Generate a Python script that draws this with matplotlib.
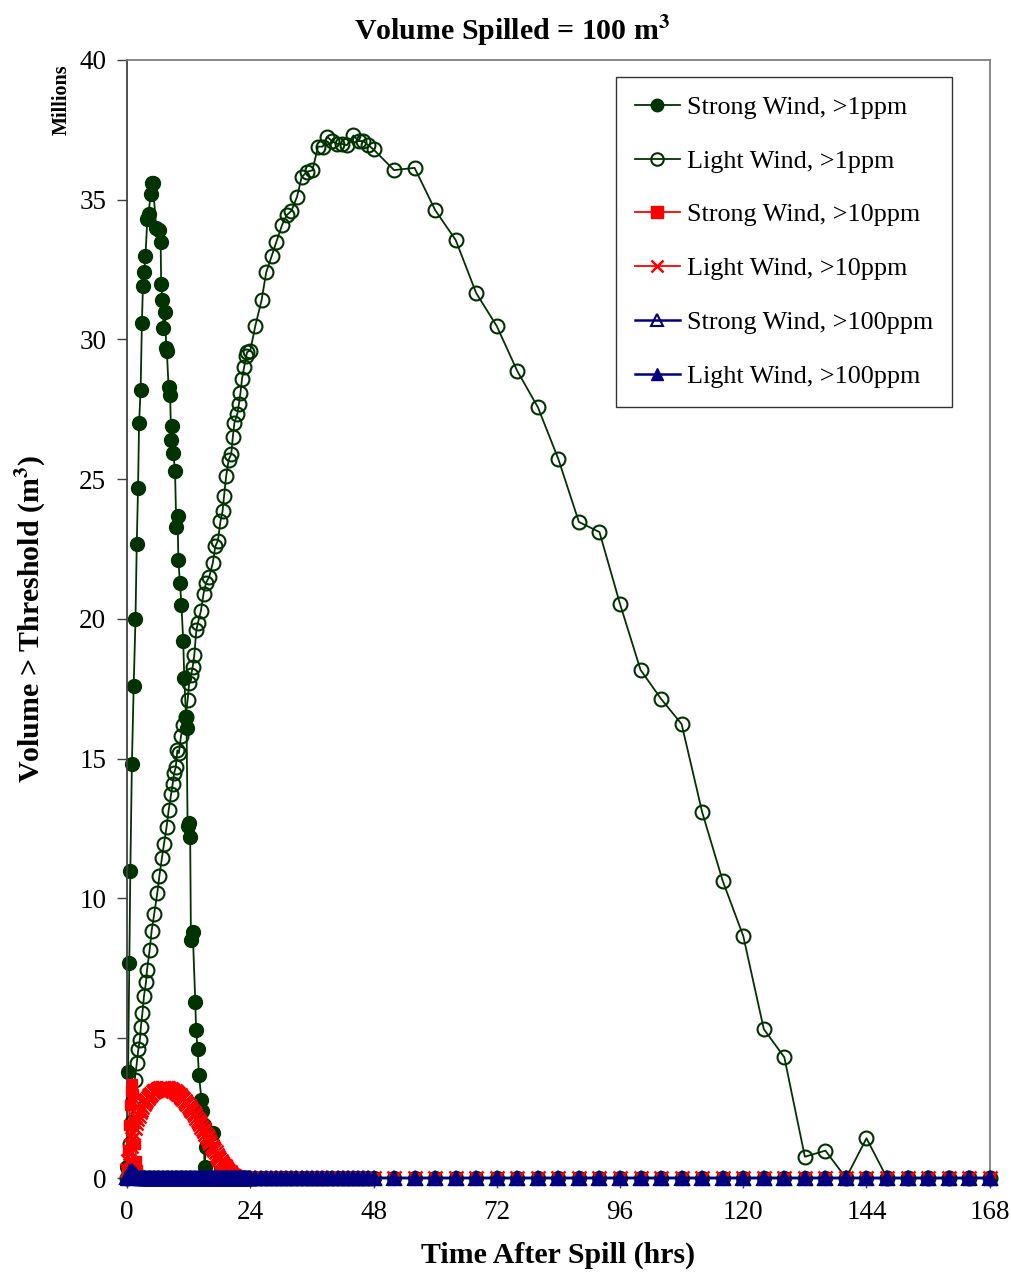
import numpy as np
import matplotlib
matplotlib.use("Agg")
import matplotlib.pyplot as plt

plt.rcParams['font.family'] = ['Liberation Serif', 'DejaVu Serif']
plt.rcParams['mathtext.fontset'] = 'stix'

# ---------------- data (millions of m^3) ----------------
x_ticks = [0, 24, 48, 72, 96, 120, 144, 168]
y_ticks = [0, 5, 10, 15, 20, 25, 30, 35, 40]

# Strong wind, >1ppm
strong1_hours = [0.0, 0.2, 0.45, 0.65, 0.95, 1.3, 1.65, 1.9, 2.15, 2.35, 2.65, 2.9, 3.1,
                 3.35, 3.6, 3.95, 4.2, 4.6, 4.8, 5.0, 5.7, 6.2, 6.55, 6.65, 6.9, 7.1, 7.4,
                 7.65, 7.75, 8.1, 8.4, 8.6, 8.85, 9.0, 9.35, 9.6, 9.85, 10.0, 10.3, 10.6,
                 10.95, 11.15, 11.5, 11.6, 11.8, 12.1, 12.3, 12.45, 12.8, 13.3, 13.45,
                 13.75, 14.0, 14.5, 14.7, 14.9, 15.1, 15.4, 16.7, 17.2]
strong1_vals = [0.4, 3.8, 7.7, 11.0, 14.8, 17.6, 20.0, 22.7, 24.7, 27.0, 28.2, 30.6, 31.9,
                32.4, 33.0, 34.3, 34.5, 35.2, 35.6, 35.6, 34.0, 33.9, 33.5, 32.0, 31.4, 30.4,
                31.0, 29.7, 29.6, 28.3, 28.0, 26.4, 26.9, 25.95, 25.3, 23.3, 23.7, 22.1,
                21.3, 20.5, 19.2, 17.9, 16.5, 16.1, 12.6, 12.7, 12.2, 8.5, 8.8, 6.3, 5.3,
                4.6, 3.7, 2.8, 2.4, 1.9, 0.4, 1.1, 1.6, 0.0]

# Light wind, >1ppm
light1_hours = [0.0, 0.3, 0.6, 0.9, 1.2, 1.5, 1.9, 2.2, 2.5, 2.7, 3.0, 3.3, 3.7, 3.9, 4.4,
                4.8, 5.3, 5.9, 6.3, 6.8, 7.2, 7.7, 8.1, 8.6, 8.9, 9.2, 9.5, 9.8, 10.1,
                10.5, 11.0, 11.4, 11.8, 12.1, 12.5, 12.8, 13.1, 13.5, 13.8, 14.4, 14.9,
                15.4, 16.0, 16.7, 17.2, 17.7, 18.2, 18.6, 18.9, 19.3, 19.8, 20.3, 20.6,
                20.9, 21.5, 21.8, 22.1, 22.4, 22.8, 23.2, 23.4, 24.0, 25.0, 26.2, 27.1,
                28.2, 29.1, 30.2, 31.1, 32.0, 33.1, 34.0, 35.0, 36.1, 37.2, 38.1, 39.0,
                39.9, 40.8, 41.8, 42.8, 44.1, 45.1, 46.0, 47.0, 48.0, 52, 56, 60, 64, 68,
                72, 76, 80, 84, 88, 92, 96, 100, 104, 108, 112, 116, 120, 124, 128, 132,
                136, 140, 144, 148, 152, 156, 160, 164, 168]
light1_vals = [0.0, 0.3, 1.2, 2.0, 2.8, 3.5, 4.1, 4.6, 4.95, 5.4, 5.9, 6.5, 7.0, 7.45,
               8.15, 8.85, 9.45, 10.2, 10.8, 11.45, 11.95, 12.55, 13.15, 13.75, 14.1, 14.5,
               14.7, 15.3, 15.2, 15.8, 16.2, 16.5, 17.1, 17.7, 18.0, 18.3, 18.7, 19.6,
               19.85, 20.3, 20.9, 21.3, 21.5, 22.0, 22.6, 22.8, 23.5, 23.85, 24.4, 25.1,
               25.7, 25.9, 26.5, 27.0, 27.35, 27.7, 28.1, 28.6, 29.0, 29.4, 29.55, 29.6,
               30.5, 31.4, 32.4, 33.0, 33.5, 34.1, 34.45, 34.6, 35.1, 35.8, 36.0, 36.05,
               36.9, 36.9, 37.25, 37.1, 37.0, 37.0, 36.95, 37.3, 37.1, 37.1, 36.95, 36.8,
               36.06, 36.14, 34.63, 33.56, 31.66, 30.48, 28.87, 27.58, 25.72, 23.47, 23.11,
               20.54, 18.18, 17.14, 16.24, 13.09, 10.63, 8.66, 5.33, 4.32, 0.76, 0.98,
               0.0, 1.42, 0.0, 0.0, 0.0, 0.0, 0.0, 0.0]

# Strong wind, >10ppm
strong10_hours = [0.0, 0.2, 0.4, 0.6, 0.8, 1.0, 1.2, 1.4, 1.6, 1.8, 2.0, 2.3, 2.6]
strong10_vals = [0.3, 1.0, 1.9, 2.6, 3.1, 3.35, 3.0, 2.0, 1.2, 0.6, 0.3, 0.1, 0.0]

# Light wind, >10ppm
light10_hours = [0.0, 0.25, 0.5, 0.75, 1.0, 1.25, 1.5, 1.75, 2.0, 2.25, 2.5, 2.75, 3.0,
                 3.25, 3.5, 3.75, 4.0, 4.25, 4.5, 4.75, 5.0, 5.25, 5.5, 5.75, 6.0, 6.25,
                 6.5, 6.75, 7.0, 7.25, 7.5, 7.75, 8.0, 8.25, 8.5, 8.75, 9.0, 9.25, 9.5,
                 9.75, 10.0, 10.25, 10.5, 10.75, 11.0, 11.25, 11.5, 11.75, 12.0, 12.25,
                 12.5, 12.75, 13.0, 13.25, 13.5, 13.75, 14.0, 14.25, 14.5, 14.75, 15.0,
                 15.25, 15.5, 15.75, 16.0, 16.25, 16.5, 16.75, 17.0, 17.25, 17.5, 17.75,
                 18.0, 18.25, 18.5, 18.75, 19.0, 19.25, 19.5, 19.75, 20.0, 20.25, 20.5,
                 20.75, 21.0, 21.25, 21.5]
light10_vals = [0.3, 0.6, 0.9, 1.15, 1.4, 1.6, 1.8, 1.95, 2.1, 2.23, 2.35, 2.45, 2.55,
                2.64, 2.72, 2.8, 2.86, 2.92, 2.97, 3.02, 3.06, 3.1, 3.13, 3.16, 3.18, 3.2,
                3.21, 3.22, 3.23, 3.23, 3.23, 3.22, 3.21, 3.2, 3.18, 3.16, 3.13, 3.1, 3.07,
                3.04, 3.0, 2.96, 2.91, 2.86, 2.81, 2.76, 2.7, 2.64, 2.58, 2.52, 2.45, 2.38,
                2.31, 2.24, 2.16, 2.08, 2.0, 1.92, 1.84, 1.76, 1.67, 1.59, 1.5, 1.42, 1.33,
                1.25, 1.16, 1.08, 1.0, 0.92, 0.84, 0.76, 0.69, 0.62, 0.55, 0.48, 0.42, 0.36,
                0.3, 0.25, 0.2, 0.16, 0.12, 0.08, 0.05, 0.02, 0.0]

# Strong wind, >100ppm
strong100_hours = [0.0, 0.5, 1.0, 1.5, 2.0, 2.5]
strong100_vals = [0.05, 0.2, 0.25, 0.15, 0.05, 0.0]

# Light wind, >100ppm
light100_hours = [0.0, 0.5, 1.0, 1.5, 2.0, 2.5]
light100_vals = [0.0, 0.1, 0.2, 0.15, 0.05, 0.0]

# zero-valued sampling after the plumes die out
hourly_tail = [25, 26, 27, 28, 29, 30, 31, 32, 33, 34, 35, 36, 37, 38, 39, 40, 41, 42,
               43, 44, 45, 46, 47, 48]
four_hourly_tail = [52, 56, 60, 64, 68, 72, 76, 80, 84, 88, 92, 96, 100, 104, 108, 112,
                    116, 120, 124, 128, 132, 136, 140, 144, 148, 152, 156, 160, 164, 168]


def with_zero_tail(hours, vals):
    start = hours[-1]
    dense = list(np.arange(start + 0.25, 24.01, 0.25))
    extra = dense + hourly_tail + four_hourly_tail
    return list(hours) + extra, list(vals) + [0.0] * len(extra)


s1h, s1v = with_zero_tail(strong1_hours, strong1_vals)
s10h, s10v = with_zero_tail(strong10_hours, strong10_vals)
l10h, l10v = with_zero_tail(light10_hours, light10_vals)
s100h, s100v = with_zero_tail(strong100_hours, strong100_vals)
l100h, l100v = with_zero_tail(light100_hours, light100_vals)

green = '#003300'
red = '#FF0000'
navy = '#000080'

fig = plt.figure(figsize=(10.12, 12.76), dpi=100)
ax = fig.add_axes([0.1255, 0.0768, 0.8525, 0.8762])

lw = 1.3
ax.plot(s1h, s1v, color=green, lw=lw, marker='o', ms=10, mfc=green, mec=green,
        label='Strong Wind, >1ppm', zorder=2)
ax.plot(light1_hours, light1_vals, color=green, lw=lw, marker='o', ms=10, mfc='none',
        mec=green, mew=1.5, label='Light Wind, >1ppm', zorder=3)
ax.plot(s10h, s10v, color=red, lw=lw, marker='s', ms=7.5, mfc=red, mec=red,
        label='Strong Wind, >10ppm', zorder=4)
ax.plot(l10h, l10v, color=red, lw=lw, marker='x', ms=9.5, mew=1.8, mec=red,
        label='Light Wind, >10ppm', zorder=5)
ax.plot(s100h, s100v, color=navy, lw=1.8, marker='^', ms=9.5, mfc='none', mec=navy,
        mew=1.5, label='Strong Wind, >100ppm', zorder=6)
ax.plot(l100h, l100v, color=navy, lw=1.8, marker='^', ms=9.5, mfc=navy, mec=navy,
        label='Light Wind, >100ppm', zorder=7)

ax.set_xlim(0, 168)
ax.set_ylim(0, 40)
ax.set_xticks(x_ticks)
ax.set_yticks(y_ticks)
ax.tick_params(axis='both', which='major', labelsize=19.5, direction='out', length=7,
               width=1, colors='#404040', labelcolor='black')
ax.tick_params(axis='x', pad=9)
ax.tick_params(axis='y', pad=8)
for s in ['top', 'right']:
    ax.spines[s].set_color('#808080')
    ax.spines[s].set_linewidth(1.3)
for s in ['left', 'bottom']:
    ax.spines[s].set_color('#404040')
    ax.spines[s].set_linewidth(1.3)
for ln in ax.lines:
    ln.set_clip_on(False)

ax.set_xlabel('Time After Spill (hrs)', fontsize=21.5, fontweight='bold', labelpad=12)
ax.set_ylabel('Volume > Threshold (m$^\\mathbf{3}$)', fontsize=21.5, fontweight='bold',
              labelpad=22)
fig.text(0.506, 0.976, 'Volume Spilled = 100 m$^\\mathbf{3}$', ha='center', va='center',
         fontsize=21.5, fontweight='bold')
fig.text(0.061, 0.922, 'Millions', rotation=90, ha='center', va='center', fontsize=14.5,
         fontweight='bold')

leg = ax.legend(loc='upper right', bbox_to_anchor=(0.956, 0.985), fontsize=18.8,
                frameon=True, fancybox=False, shadow=False, edgecolor='black',
                labelspacing=1.17, handlelength=1.75, handletextpad=0.25, borderpad=0.72,
                borderaxespad=0)
leg.get_frame().set_linewidth(1.0)
for h in leg.legend_handles:
    try:
        h.set_markersize(9)
    except Exception:
        pass

fig.savefig('out.png', dpi=100)
